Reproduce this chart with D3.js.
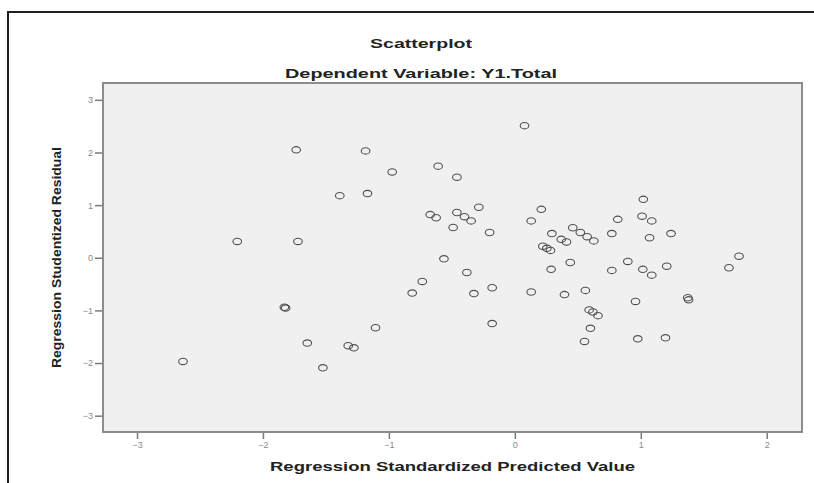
<!DOCTYPE html>
<html>
<head>
<meta charset="utf-8">
<script src="https://cdnjs.cloudflare.com/ajax/libs/d3/7.8.5/d3.min.js"></script>
<style>
  body { margin: 0; background: #fff; }
  text { font-family: "Liberation Sans", Arial, sans-serif; }
</style>
</head>
<body>
<script>
// Regression residual scatterplot (SPSS style)

// standardized predicted value (x) and studentized residual (y)
const predicted = [
    -1.736, -1.185, -0.974, -0.609, -0.46, -1.39, -1.17, -0.672, -0.625, -0.46,
    -0.49, -2.204, -1.722, -0.563, -0.735, -0.815, -1.83, -1.82, -1.106, -1.648,
    -1.323, -1.278, -1.524, -2.635,
    0.077, -0.40, -0.347, -0.286, -0.20, -0.381, -0.325, -0.18, -0.18, 0.13,
    0.21, 0.294, 0.222, 0.254, 0.283, 0.368, 0.41, 0.46, 0.52, 0.574,
    0.627, 0.288, 0.44, 0.13, 0.394, 0.56, 0.59, 0.62, 0.66, 0.60,
    0.553, 0.817, 0.77, 1.02, 1.01, 1.087, 1.07, 1.24, 0.897, 0.77,
    1.016, 1.087, 1.206, 0.958, 1.373, 1.38, 0.976, 1.196, 1.70, 1.78
];
const residual = [
    2.05, 2.03, 1.63, 1.74, 1.53, 1.18, 1.22, 0.82, 0.76, 0.86,
    0.575, 0.31, 0.31, -0.02, -0.45, -0.67, -0.94, -0.955, -1.33, -1.62,
    -1.67, -1.71, -2.09, -1.97,
    2.51, 0.78, 0.70, 0.96, 0.48, -0.28, -0.68, -0.57, -1.25, 0.70,
    0.92, 0.46, 0.22, 0.18, 0.14, 0.35, 0.30, 0.57, 0.48, 0.40,
    0.32, -0.22, -0.09, -0.65, -0.70, -0.62, -0.99, -1.03, -1.10, -1.34,
    -1.59, 0.73, 0.46, 1.11, 0.79, 0.70, 0.38, 0.46, -0.07, -0.24,
    -0.22, -0.33, -0.16, -0.83, -0.76, -0.80, -1.54, -1.52, -0.19, 0.03
];

const xTicks = [-3, -2, -1, 0, 1, 2];
const yTicks = [-3, -2, -1, 0, 1, 2, 3];

const titleText = 'Scatterplot';
const subtitleText = 'Dependent Variable: Y1.Total';
const xTitle = 'Regression Standardized Predicted Value';
const yTitle = 'Regression Studentized Residual';

const width = 814, height = 483;
const plot = { left: 103, right: 802, top: 83, bottom: 432 };

const svg = d3.select('body').append('svg')
    .attr('width', width)
    .attr('height', height);

// outer frame, only top and left edges are inside the picture
svg.append('path')
    .attr('d', `M8,${height} V12 H${width}`)
    .attr('fill', 'none')
    .attr('stroke', '#1e1e1e')
    .attr('stroke-width', 2);

const x = d3.scaleLinear().domain([-3.27, 2.28]).range([plot.left, plot.right]);
const y = d3.scaleLinear().domain([-3.31, 3.32]).range([plot.bottom, plot.top]);

// plot background
svg.append('rect')
    .attr('x', plot.left)
    .attr('y', plot.top)
    .attr('width', plot.right - plot.left)
    .attr('height', plot.bottom - plot.top)
    .attr('fill', '#f0f0f0')
    .attr('stroke', '#8c8c8c')
    .attr('stroke-width', 2);

// axes
const xAxis = svg.append('g')
    .attr('transform', `translate(0,${plot.bottom + 1})`)
    .call(d3.axisBottom(x).tickValues(xTicks).tickSize(6).tickPadding(3).tickFormat(d3.format('d')));
const yAxis = svg.append('g')
    .attr('transform', `translate(${plot.left - 1},0)`)
    .call(d3.axisLeft(y).tickValues(yTicks).tickSize(7).tickPadding(2).tickFormat(d3.format('d')));

[xAxis, yAxis].forEach(g => {
    g.select('.domain').remove();
    g.selectAll('line').attr('stroke', '#7a7a7a').attr('stroke-width', 1.5);
    g.selectAll('text')
        .attr('fill', '#8a8a8a')
        .style('font-size', '9px')
        .style('font-family', '"Liberation Sans", Arial, sans-serif');
});

// points
svg.append('g')
    .selectAll('ellipse')
    .data(predicted.map((p, i) => [p, residual[i]]))
    .join('ellipse')
    .attr('cx', d => x(d[0]))
    .attr('cy', d => y(d[1]))
    .attr('rx', 4.3)
    .attr('ry', 3.2)
    .attr('fill', 'none')
    .attr('stroke', '#505050')
    .attr('stroke-width', 1.1);

// titles
svg.append('text')
    .attr('x', 421).attr('y', 48)
    .attr('text-anchor', 'middle')
    .attr('font-weight', 'bold')
    .attr('font-size', 13)
    .attr('fill', '#222')
    .attr('textLength', 102)
    .attr('lengthAdjust', 'spacingAndGlyphs')
    .text(titleText);

svg.append('text')
    .attr('x', 421).attr('y', 78)
    .attr('text-anchor', 'middle')
    .attr('font-weight', 'bold')
    .attr('font-size', 13)
    .attr('fill', '#222')
    .attr('textLength', 272)
    .attr('lengthAdjust', 'spacingAndGlyphs')
    .text(subtitleText);

svg.append('text')
    .attr('x', (plot.left + plot.right) / 2).attr('y', 471)
    .attr('text-anchor', 'middle')
    .attr('font-weight', 'bold')
    .attr('font-size', 13)
    .attr('fill', '#222')
    .attr('textLength', 365)
    .attr('lengthAdjust', 'spacingAndGlyphs')
    .text(xTitle);

svg.append('text')
    .attr('transform', `translate(61,${(plot.top + plot.bottom) / 2}) rotate(-90)`)
    .attr('text-anchor', 'middle')
    .attr('font-weight', 'bold')
    .attr('font-size', 12)
    .attr('fill', '#222')
    .attr('textLength', 221)
    .attr('lengthAdjust', 'spacingAndGlyphs')
    .text(yTitle);
</script>
</body>
</html>
